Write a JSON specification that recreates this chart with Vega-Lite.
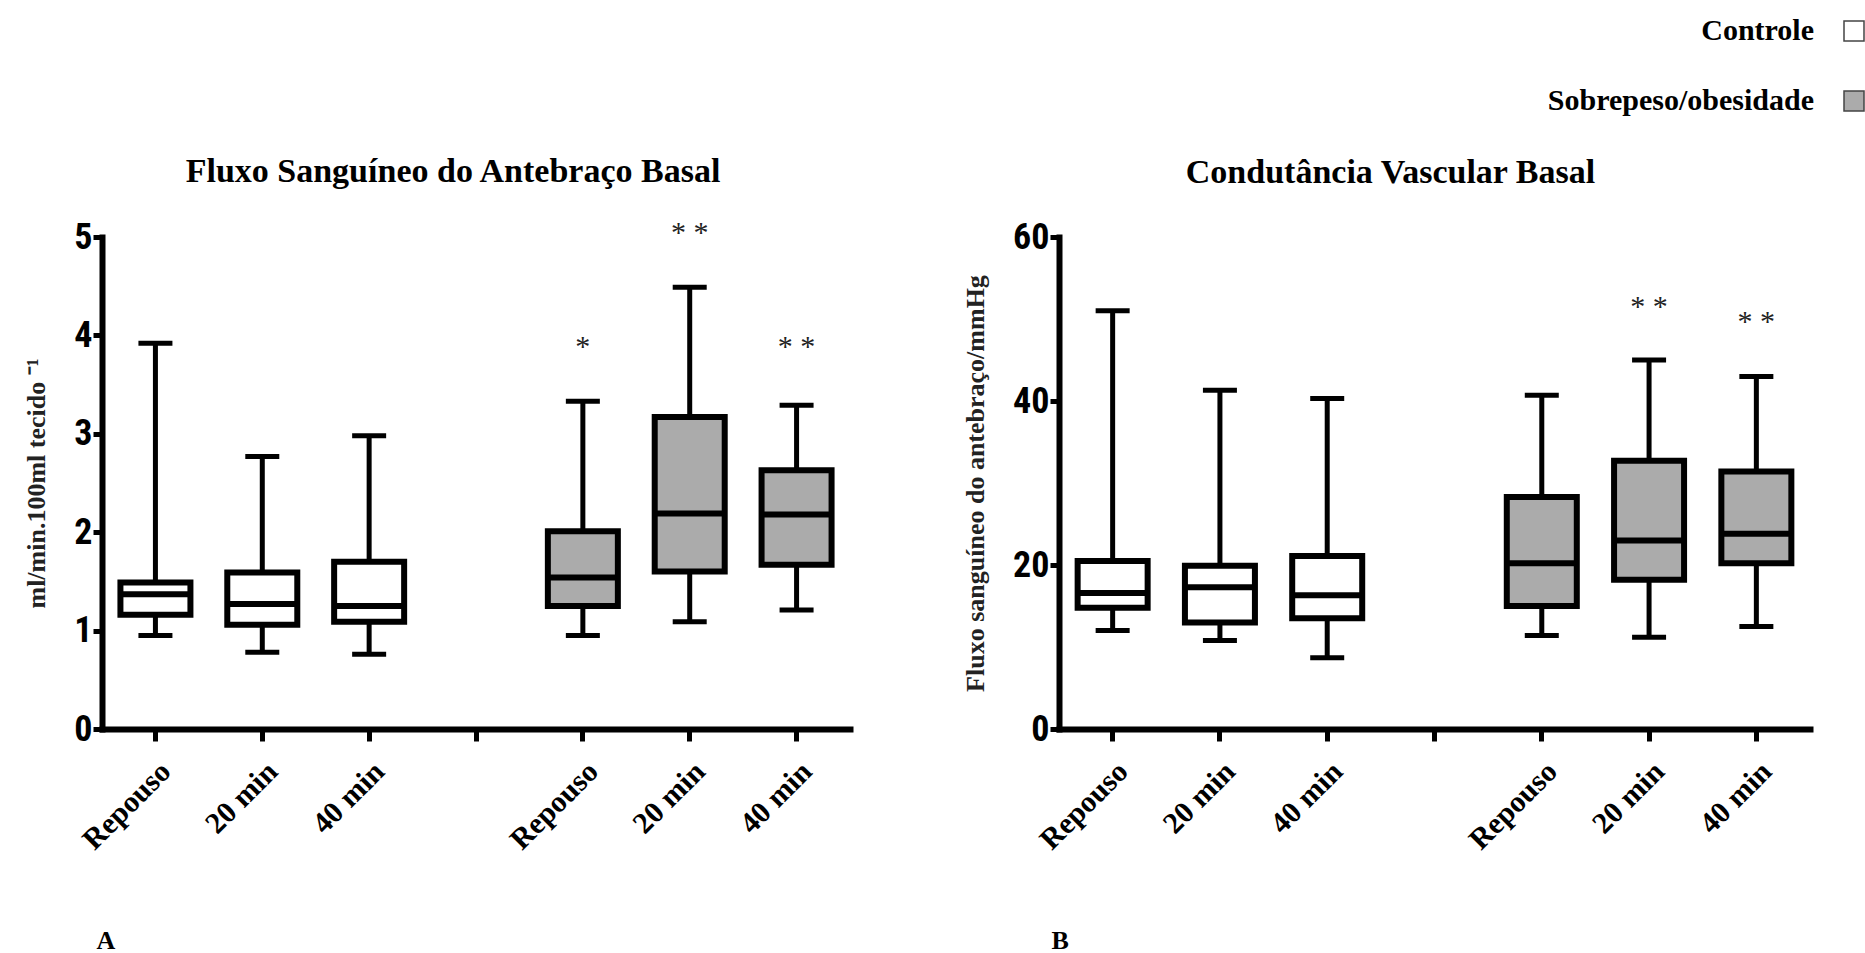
{
  "$schema": "https://vega.github.io/schema/vega-lite/v6.json",
  "background": "white",
  "padding": {"left": 23, "top": 16, "right": 5, "bottom": 5},
  "datasets": {
    "fluxo": [
      {"x": "c1", "group": "Controle", "lo": 0.95, "q1": 1.16, "med": 1.37, "q3": 1.49, "hi": 3.92},
      {"x": "c2", "group": "Controle", "lo": 0.78, "q1": 1.06, "med": 1.27, "q3": 1.59, "hi": 2.77},
      {"x": "c3", "group": "Controle", "lo": 0.76, "q1": 1.09, "med": 1.25, "q3": 1.70, "hi": 2.98},
      {"x": "o1", "group": "Sobrepeso/obesidade", "lo": 0.95, "q1": 1.25, "med": 1.54, "q3": 2.01, "hi": 3.33, "star": "*", "starY": 3.94},
      {"x": "o2", "group": "Sobrepeso/obesidade", "lo": 1.09, "q1": 1.60, "med": 2.19, "q3": 3.17, "hi": 4.49, "star": "* *", "starY": 5.1},
      {"x": "o3", "group": "Sobrepeso/obesidade", "lo": 1.21, "q1": 1.67, "med": 2.18, "q3": 2.63, "hi": 3.29, "star": "* *", "starY": 3.94}
    ],
    "condut": [
      {"x": "c1", "group": "Controle", "lo": 12.0, "q1": 14.8, "med": 16.6, "q3": 20.5, "hi": 51.0},
      {"x": "c2", "group": "Controle", "lo": 10.8, "q1": 13.0, "med": 17.3, "q3": 19.9, "hi": 41.3},
      {"x": "c3", "group": "Controle", "lo": 8.7, "q1": 13.5, "med": 16.3, "q3": 21.1, "hi": 40.3},
      {"x": "o1", "group": "Sobrepeso/obesidade", "lo": 11.4, "q1": 15.0, "med": 20.2, "q3": 28.3, "hi": 40.7},
      {"x": "o2", "group": "Sobrepeso/obesidade", "lo": 11.2, "q1": 18.2, "med": 23.0, "q3": 32.7, "hi": 45.0, "star": "* *", "starY": 52.2},
      {"x": "o3", "group": "Sobrepeso/obesidade", "lo": 12.5, "q1": 20.2, "med": 23.8, "q3": 31.4, "hi": 43.0, "star": "* *", "starY": 50.4}
    ]
  },
  "config": {
    "view": {"stroke": null},
    "axis": {
      "grid": false,
      "domainColor": "black",
      "domainWidth": 6,
      "domainCap": "square",
      "tickColor": "black",
      "tickWidth": 5,
      "tickCap": "butt"
    },
    "axisX": {
      "tickSize": 12,
      "labelAngle": -45,
      "labelFont": "Liberation Serif",
      "labelFontWeight": "bold",
      "labelFontSize": 30,
      "labelColor": "black",
      "labelPadding": 15,
      "titleFont": "Liberation Serif",
      "titleFontWeight": "bold",
      "titleFontSize": 26,
      "titleColor": "black",
      "titleAnchor": "start",
      "titleAlign": "left",
      "titleBaseline": "middle",
      "titleX": -6,
      "titleY": 211
    },
    "axisY": {
      "tickSize": 9,
      "format": "d",
      "labelFont": "Liberation Sans Narrow, Arial Narrow, Roboto Condensed, DejaVu Sans Condensed, Liberation Sans",
      "labelFontWeight": "bold",
      "labelFontSize": 36,
      "labelColor": "black",
      "labelPadding": 1,
      "labelBaseline": "middle",
      "titleFont": "Liberation Serif",
      "titleFontWeight": "bold",
      "titleFontSize": 26,
      "titleColor": "#222222",
      "titlePadding": 24
    },
    "title": {
      "font": "Liberation Serif",
      "fontSize": 34,
      "fontWeight": "bold",
      "color": "black",
      "offset": 29
    },
    "legend": {
      "orient": "none",
      "legendX": 1737,
      "legendY": -221,
      "title": null,
      "symbolType": "square",
      "symbolSize": 400,
      "symbolStrokeColor": "#444444",
      "symbolStrokeWidth": 1.5,
      "symbolOpacity": 1,
      "labelFont": "Liberation Serif",
      "labelFontSize": 30,
      "labelFontWeight": "bold",
      "labelColor": "black",
      "labelAlign": "right",
      "labelOffset": -55,
      "labelLimit": 600,
      "rowPadding": 40
    }
  },
  "resolve": {"scale": {"fill": "shared"}, "legend": {"fill": "shared"}},
  "spacing": 112,
  "hconcat": [
    {
      "width": 748,
      "height": 492,
      "title": {"text": "Fluxo Sanguíneo do Antebraço Basal", "dx": -23},
      "data": {"name": "fluxo"},
      "encoding": {
        "x": {
          "field": "x",
          "type": "nominal",
          "scale": {"domain": ["c1", "c2", "c3", "g", "o1", "o2", "o3"], "paddingInner": 0, "paddingOuter": 0},
          "axis": {
            "title": "A",
            "labelExpr": "(datum.value == 'c1' || datum.value == 'o1') ? 'Repouso' : (datum.value == 'c2' || datum.value == 'o2') ? '20 min' : (datum.value == 'c3' || datum.value == 'o3') ? '40 min' : ''"
          }
        }
      },
      "layer": [
        {
          "mark": {"type": "rule", "strokeWidth": 5, "color": "black"},
          "encoding": {
            "y": {"field": "lo", "type": "quantitative", "scale": {"domain": [0, 5], "nice": false}, "axis": {"values": [0, 1, 2, 3, 4, 5], "title": "ml/min.100ml tecido ⁻¹"}},
            "y2": {"field": "hi"}
          }
        },
        {
          "mark": {"type": "tick", "size": 34, "thickness": 5, "color": "black", "opacity": 1},
          "encoding": {"y": {"field": "lo", "type": "quantitative"}}
        },
        {
          "mark": {"type": "tick", "size": 34, "thickness": 5, "color": "black", "opacity": 1},
          "encoding": {"y": {"field": "hi", "type": "quantitative"}}
        },
        {
          "mark": {"type": "bar", "size": 70, "stroke": "black", "strokeWidth": 6, "opacity": 1},
          "encoding": {
            "y": {"field": "q1", "type": "quantitative"},
            "y2": {"field": "q3"},
            "fill": {"field": "group", "type": "nominal", "scale": {"domain": ["Controle", "Sobrepeso/obesidade"], "range": ["white", "#ababab"]}}
          }
        },
        {
          "mark": {"type": "tick", "size": 70, "thickness": 6, "color": "black", "opacity": 1},
          "encoding": {"y": {"field": "med", "type": "quantitative"}}
        },
        {
          "mark": {"type": "text", "font": "Liberation Serif", "fontSize": 30, "color": "#222222", "baseline": "middle", "dy": 6},
          "encoding": {"y": {"field": "starY", "type": "quantitative"}, "text": {"field": "star"}}
        }
      ]
    },
    {
      "width": 751,
      "height": 492,
      "title": {"text": "Condutância Vascular Basal", "dx": -44},
      "data": {"name": "condut"},
      "encoding": {
        "x": {
          "field": "x",
          "type": "nominal",
          "scale": {"domain": ["c1", "c2", "c3", "g", "o1", "o2", "o3"], "paddingInner": 0, "paddingOuter": 0},
          "axis": {
            "title": "B",
            "titleX": -8,
            "labelExpr": "(datum.value == 'c1' || datum.value == 'o1') ? 'Repouso' : (datum.value == 'c2' || datum.value == 'o2') ? '20 min' : (datum.value == 'c3' || datum.value == 'o3') ? '40 min' : ''"
          }
        }
      },
      "layer": [
        {
          "mark": {"type": "rule", "strokeWidth": 5, "color": "black"},
          "encoding": {
            "y": {"field": "lo", "type": "quantitative", "scale": {"domain": [0, 60], "nice": false}, "axis": {"values": [0, 20, 40, 60], "title": "Fluxo sanguíneo do antebraço/mmHg"}},
            "y2": {"field": "hi"}
          }
        },
        {
          "mark": {"type": "tick", "size": 34, "thickness": 5, "color": "black", "opacity": 1},
          "encoding": {"y": {"field": "lo", "type": "quantitative"}}
        },
        {
          "mark": {"type": "tick", "size": 34, "thickness": 5, "color": "black", "opacity": 1},
          "encoding": {"y": {"field": "hi", "type": "quantitative"}}
        },
        {
          "mark": {"type": "bar", "size": 70, "stroke": "black", "strokeWidth": 6, "opacity": 1},
          "encoding": {
            "y": {"field": "q1", "type": "quantitative"},
            "y2": {"field": "q3"},
            "fill": {"field": "group", "type": "nominal", "scale": {"domain": ["Controle", "Sobrepeso/obesidade"], "range": ["white", "#ababab"]}}
          }
        },
        {
          "mark": {"type": "tick", "size": 70, "thickness": 6, "color": "black", "opacity": 1},
          "encoding": {"y": {"field": "med", "type": "quantitative"}}
        },
        {
          "mark": {"type": "text", "font": "Liberation Serif", "fontSize": 30, "color": "#222222", "baseline": "middle", "dy": 6},
          "encoding": {"y": {"field": "starY", "type": "quantitative"}, "text": {"field": "star"}}
        }
      ]
    }
  ]
}
